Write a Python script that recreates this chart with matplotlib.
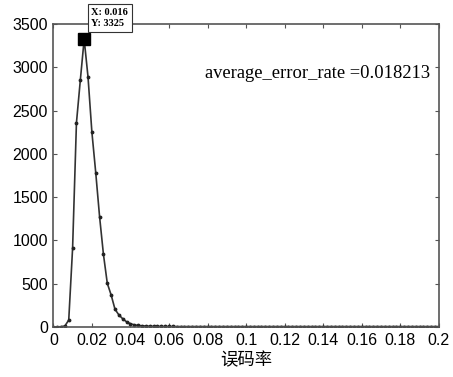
import numpy as np
import matplotlib
matplotlib.use("Agg")
import matplotlib.pyplot as plt

plt.rcParams['font.family'] = ['Liberation Sans', 'Noto Sans CJK SC', 'DejaVu Sans']

# 误码率分布 (step 0.002)
err_rate = np.round(np.arange(101) * 0.002, 3)
counts = [2, 2, 3, 12, 80, 910, 2360, 2850, 3325, 2890,
          2255, 1785, 1275, 840, 505, 370, 205, 140, 95, 60,
          38, 25, 18, 14, 11, 9, 8, 7, 7, 6,
          6, 6, 5, 5, 5, 5, 5, 5, 5, 5,
          5, 5, 5, 5, 5, 5, 5, 5, 5, 5,
          5, 5, 5, 5, 5, 5, 5, 5, 5, 5,
          5, 5, 5, 5, 5, 5, 5, 5, 5, 5,
          5, 5, 5, 5, 5, 5, 5, 5, 5, 5,
          5, 5, 5, 5, 5, 5, 5, 5, 5, 5,
          5, 5, 5, 5, 5, 5, 5, 5, 5, 5, 5]
peak_x = 0.016
peak_y = 3325
avg_rate = "0.018213"

xticks = [0, 0.02, 0.04, 0.06, 0.08, 0.1, 0.12, 0.14, 0.16, 0.18, 0.2]
xticklabels = ['0', '0.02', '0.04', '0.06', '0.08', '0.1', '0.12', '0.14', '0.16', '0.18', '0.2']
yticks = [0, 500, 1000, 1500, 2000, 2500, 3000, 3500]

fig = plt.figure(figsize=(4.53, 3.77), dpi=100)
ax = fig.add_axes([0.1177, 0.1326, 0.851, 0.8034])

ax.plot(err_rate, counts, color='#333333', lw=1.2, marker='.', ms=3.5, mfc='#222222', mec='#222222')
ax.plot([peak_x], [peak_y], marker='s', ms=8, color='black', ls='none', clip_on=False)

ax.annotate("X: %s\nY: %d" % (peak_x, peak_y), xy=(peak_x, peak_y),
            xytext=(7, 11), textcoords='offset pixels', ha='left', va='bottom',
            fontsize=7.5, family='Liberation Serif', fontweight='bold', linespacing=1.35,
            bbox=dict(boxstyle='square,pad=0.35', fc='white', ec='#333333', lw=0.8),
            annotation_clip=False)

ax.text(0.0785, 2934, "average_error_rate =" + avg_rate, family='Liberation Serif',
        fontsize=13.3, ha='left', va='center')

ax.set_xlim(0, 0.2)
ax.set_ylim(0, 3500)
ax.set_xticks(xticks)
ax.set_xticklabels(xticklabels)
ax.set_yticks(yticks)
ax.tick_params(direction='in', top=True, right=True, labelsize=11.5, length=3,
               color='#555555', pad=4)
for s in ax.spines.values():
    s.set_color('#555555')
    s.set_linewidth(1.2)

ax.set_xlabel("误码率", family=['Noto Sans CJK SC', 'DejaVu Sans'], fontsize=12.5, labelpad=3)

fig.savefig("out.png", dpi=100)
